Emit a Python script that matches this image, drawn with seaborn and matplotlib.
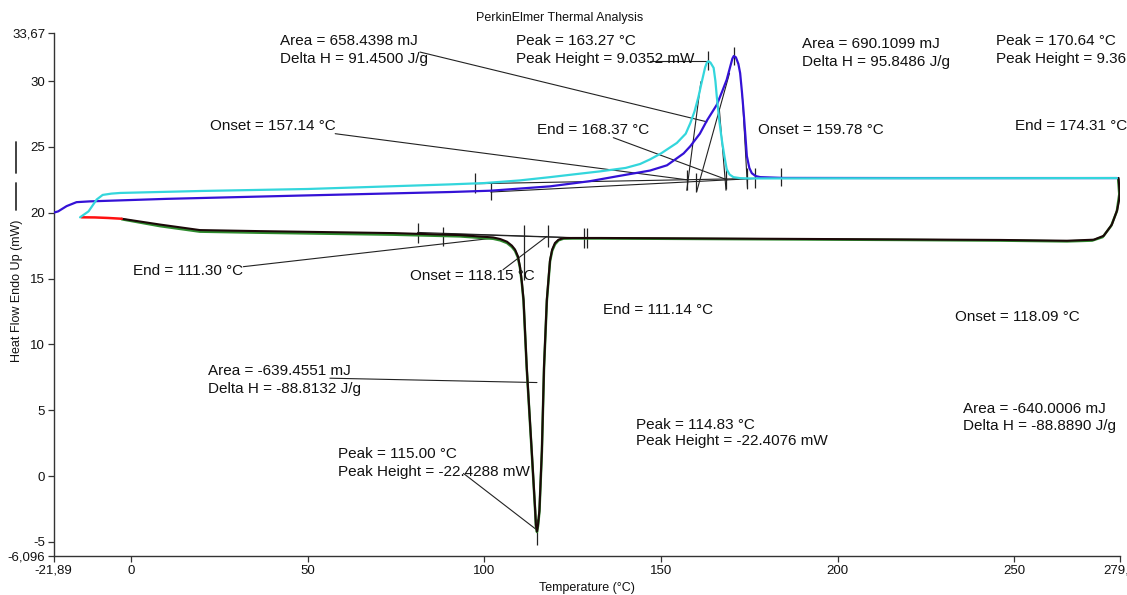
import matplotlib
matplotlib.use("Agg")
import matplotlib.pyplot as plt
import seaborn as sns
from matplotlib.lines import Line2D

# ---------------- data ----------------
# heating run 1 (cyan)
heat1_t = [-14.4, -12.0, -9.7, -8.0, -5.5, -3.0, 20.0, 50.0, 90.3, 100.0, 110.0, 118.6, 125.0,
           132.8, 140.0, 144.1, 146.9, 150.0, 154.5, 157.0, 158.3, 159.5, 160.6, 161.6, 162.5,
           163.0, 163.4, 164.0, 164.9, 165.4, 165.8, 166.5, 167.2, 168.0, 168.6, 169.4, 170.5,
           172.5, 175.2, 200.0, 250.0, 279.0]
heat1_hf = [19.65, 20.1, 21.0, 21.35, 21.45, 21.5, 21.65, 21.8, 22.15, 22.25, 22.45, 22.7, 22.9,
            23.14, 23.4, 23.7, 24.05, 24.5, 25.3, 26.0, 26.8, 27.7, 28.8, 30.0, 31.05,
            31.4, 31.5, 31.4, 31.0, 30.0, 28.8, 27.0, 25.55, 24.2, 23.3, 22.9, 22.7,
            22.62, 22.6, 22.61, 22.62, 22.63]

# heating run 2 (blue)
heat2_t = [-21.89, -20.6, -18.2, -15.4, -11.6, 10.0, 47.8, 90.3, 101.8, 118.6, 130.0, 137.5,
           146.9, 151.7, 156.4, 158.3, 161.0, 163.0, 165.8, 167.3, 168.6, 169.6, 170.2, 170.6,
           171.2, 171.9, 172.4, 172.9, 173.4, 173.9, 174.3, 175.0, 175.7, 176.8, 178.1, 184.6,
           220.0, 279.0]
heat2_hf = [20.0, 20.1, 20.5, 20.8, 20.86, 21.05, 21.3, 21.57, 21.67, 22.0, 22.4, 22.76,
            23.2, 23.6, 24.5, 25.05, 26.0, 27.0, 28.2, 29.2, 30.1, 31.1, 31.7, 31.9,
            31.8, 31.3, 30.6, 29.2, 27.6, 25.8, 24.3, 23.4, 23.0, 22.78, 22.7, 22.64,
            22.63, 22.63]

# cooling run (black), recorded from hot to cold
cool_t = [279.5, 279.8, 279.6, 279.1, 277.6, 275.3, 272.5, 264.9, 246.0, 217.7, 180.0, 150.0,
          132.8, 125.0, 122.4, 121.0, 120.0, 119.2, 118.6, 117.7, 116.9, 116.3, 115.6, 115.2,
          114.9, 114.6, 114.4, 113.4, 112.0, 111.1, 110.6, 110.1, 109.5, 108.7, 107.8, 106.4,
          104.5, 102.5, 93.1, 74.3, 36.5, 19.5, 8.2, -2.6]
cool_hf = [22.64, 21.5, 20.9, 20.2, 19.1, 18.25, 17.95, 17.87, 17.93, 17.97, 18.02, 18.06,
           18.08, 18.08, 18.07, 17.95, 17.7, 17.2, 16.4, 13.4, 8.3, 2.0, -2.6, -3.7,
           -4.2, -3.7, -2.6, 2.0, 8.3, 13.4, 14.8, 15.9, 16.7, 17.2, 17.5, 17.8,
           18.0, 18.12, 18.3, 18.45, 18.6, 18.68, 19.1, 19.54]

# second cooling trace (green), slightly below
cool2_t = [279.4, 279.7, 279.0, 277.4, 275.0, 272.0, 264.9, 246.0, 217.7, 180.0, 150.0,
           132.8, 125.0, 122.4, 121.0, 120.0, 119.2, 118.6, 117.7, 116.9, 116.3, 115.6, 115.2,
           114.9, 114.6, 114.4, 113.4, 112.0, 111.1, 110.6, 110.1, 109.5, 108.7, 107.8, 106.4,
           104.5, 102.5, 93.1, 74.3, 36.5, 19.5, 8.2, -2.6]
cool2_hf = [22.5, 21.4, 20.1, 19.0, 18.15, 17.88, 17.82, 17.88, 17.93, 17.98, 18.02,
            18.04, 18.04, 18.03, 17.9, 17.6, 17.1, 16.3, 13.3, 8.2, 1.9, -2.7, -3.8,
            -4.25, -3.8, -2.7, 1.9, 8.2, 13.3, 14.7, 15.8, 16.6, 17.1, 17.4, 17.7,
            17.9, 18.02, 18.2, 18.33, 18.48, 18.56, 18.98, 19.5]

# end of cooling (red)
cool_red_t = [-2.6, -6.5, -10.2, -14.0]
cool_red_hf = [19.54, 19.6, 19.64, 19.65]

# tick labels
x_ticks = [-21.89, 0, 50, 100, 150, 200, 250, 279.9]
x_tick_labels = ["-21,89", "0", "50", "100", "150", "200", "250", "279,9"]
y_ticks = [-6.096, -5, 0, 5, 10, 15, 20, 25, 30, 33.67]
y_tick_labels = ["-6,096", "-5", "0", "5", "10", "15", "20", "25", "30", "33,67"]

# annotation texts (text, x, y)
labels = [
    ("Area = 658.4398 mJ", 42.2, 33.05),
    ("Delta H = 91.4500 J/g", 42.2, 31.7),
    ("Peak = 163.27 °C", 109.0, 33.05),
    ("Peak Height = 9.0352 mW", 109.0, 31.7),
    ("Area = 690.1099 mJ", 190.0, 32.8),
    ("Delta H = 95.8486 J/g", 190.0, 31.45),
    ("Peak = 170.64 °C", 244.9, 33.05),
    ("Peak Height = 9.36", 244.9, 31.7),
    ("Onset = 157.14 °C", 22.4, 26.6),
    ("End = 168.37 °C", 115.0, 26.3),
    ("Onset = 159.78 °C", 177.5, 26.3),
    ("End = 174.31 °C", 250.3, 26.6),
    ("End = 111.30 °C", 0.6, 15.6),
    ("Onset = 118.15 °C", 79.0, 15.2),
    ("End = 111.14 °C", 133.6, 12.6),
    ("Onset = 118.09 °C", 233.3, 12.1),
    ("Area = -639.4551 mJ", 21.8, 7.96),
    ("Delta H = -88.8132 J/g", 21.8, 6.6),
    ("Area = -640.0006 mJ", 235.6, 5.07),
    ("Delta H = -88.8890 J/g", 235.6, 3.8),
    ("Peak = 114.83 °C", 143.0, 3.9),
    ("Peak Height = -22.4076 mW", 143.0, 2.65),
    ("Peak = 115.00 °C", 58.6, 1.65),
    ("Peak Height = -22.4288 mW", 58.6, 0.28),
]

# leader / construction lines (x0, y0, x1, y1)
leader_lines = [
    (81.8, 32.2, 163.0, 26.9),
    (147.0, 31.5, 163.4, 31.5),
    (57.8, 26.0, 157.3, 22.5),
    (136.5, 25.7, 168.7, 22.5),
    (97.4, 22.2, 184.0, 22.64),
    (101.8, 21.57, 176.7, 22.6),
    (157.3, 21.7, 161.3, 29.95),
    (160.1, 21.6, 169.4, 30.6),
    (166.5, 27.9, 168.4, 21.7),
    (173.0, 29.0, 174.5, 21.8),
    (31.8, 15.9, 102.6, 18.07),
    (105.3, 15.67, 117.7, 18.2),
    (56.3, 7.43, 114.9, 7.1),
    (94.1, 0.2, 114.9, -4.1),
    (81.1, 18.5, 129.2, 18.07),
    (88.2, 18.4, 128.1, 18.07),
]

# vertical marker ticks (x, ymin, ymax)
markers = [
    (97.4, 21.5, 23.0), (101.8, 20.95, 22.35), (157.3, 21.72, 23.24), (160.0, 21.6, 23.0),
    (168.5, 21.8, 23.4), (174.3, 21.9, 23.4), (176.7, 21.9, 23.4), (184.0, 22.0, 23.4),
    (163.4, 30.85, 32.25), (170.8, 31.25, 32.6),
    (81.1, 17.7, 19.2), (88.2, 17.45, 18.9), (111.1, 14.9, 19.06), (118.1, 17.4, 19.06),
    (128.1, 17.3, 18.85), (129.2, 17.3, 18.85), (114.9, -5.2, -3.3),
]

# ---------------- plot ----------------
sns.set_theme(style="white")
plt.rcParams['font.family'] = ['Liberation Sans', 'DejaVu Sans']

W, H = 1127, 595
fig = plt.figure(figsize=(W / 100, H / 100), dpi=100)
ax = fig.add_axes([53.6 / W, (H - 556.3) / H, (1120 - 53.6) / W, (556.3 - 32.7) / H])

for (x0, y0, x1, y1) in leader_lines:
    ax.plot([x0, x1], [y0, y1], color="#222222", lw=0.8, zorder=2)
for (x, y0, y1) in markers:
    ax.vlines(x, y0, y1, color="#222222", lw=0.9, zorder=2)

kw = dict(ax=ax, sort=False, estimator=None, legend=False)
sns.lineplot(x=cool2_t, y=cool2_hf, color="#2e8b2e", lw=1.8, zorder=3, **kw)
sns.lineplot(x=cool_t, y=cool_hf, color="#1c0808", lw=1.5, zorder=4, **kw)
sns.lineplot(x=cool_red_t, y=cool_red_hf, color="#ff1010", lw=1.8, zorder=4, **kw)
sns.lineplot(x=heat2_t, y=heat2_hf, color="#3412d6", lw=1.6, zorder=5, **kw)
sns.lineplot(x=heat1_t, y=heat1_hf, color="#33d6dc", lw=1.6, zorder=5, **kw)

for (txt, x, y) in labels:
    ax.text(x, y, txt, ha="left", va="center", fontsize=11.0, color="#111111", zorder=6)

ax.set_xlim(-21.89, 279.9)
ax.set_ylim(-6.096, 33.67)
ax.set_xticks(x_ticks)
ax.set_xticklabels(x_tick_labels)
ax.set_yticks(y_ticks)
ax.set_yticklabels(y_tick_labels)
ax.tick_params(axis="both", which="both", direction="out", length=4, width=0.9,
               colors="#333333", labelsize=9.5, labelcolor="#111111", pad=2,
               bottom=True, left=True)
for s in ["top", "right"]:
    ax.spines[s].set_visible(False)
for s in ["left", "bottom"]:
    ax.spines[s].set_color("#333333")
    ax.spines[s].set_linewidth(1.0)
ax.set_xlabel("")
ax.set_ylabel("")

fig.text(560 / W, 1 - 18 / H, "PerkinElmer Thermal Analysis", ha="center", va="center",
         fontsize=9, color="#111111")
fig.text(587 / W, 1 - 588 / H, "Temperature (°C)", ha="center", va="center",
         fontsize=9, color="#111111")
fig.text(17 / W, 1 - 291 / H, "Heat Flow Endo Up (mW)", ha="center", va="center",
         rotation=90, fontsize=9, color="#111111")
fig.add_artist(Line2D([16 / W, 16 / W], [1 - 142 / H, 1 - 173 / H], color="#333333", lw=1.3))
fig.add_artist(Line2D([16 / W, 16 / W], [1 - 183 / H, 1 - 210 / H], color="#333333", lw=1.3))

fig.savefig("out.png", dpi=100)
